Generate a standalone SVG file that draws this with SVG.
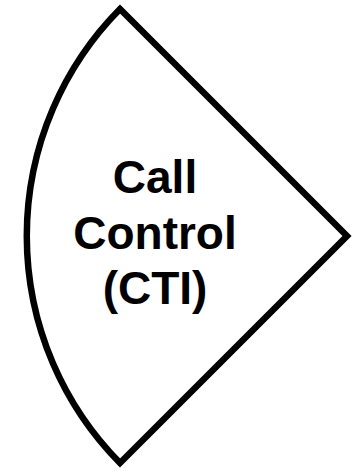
<svg xmlns="http://www.w3.org/2000/svg" width="360" height="472" viewBox="0 0 360 472">
<style>
.shape{fill:#fff;stroke:#000;stroke-width:6.5;stroke-linejoin:miter;stroke-miterlimit:10}
.lbl{font-family:"Liberation Sans",Arial,sans-serif;font-weight:bold;font-size:46px;fill:#000;text-anchor:middle}
</style>
<rect width="360" height="472" fill="#fff"/>
<g id="call-control">
<path class="shape" d="M120,9 L347,236 L120,463 A323,323 0 0 1 120,9 Z"/>
<text class="lbl" x="155" y="193">Call</text>
<text class="lbl" x="155" y="249">Control</text>
<text class="lbl" x="155" y="304">(CTI)</text>
</g>
<g id="connectors"/>
</svg>
